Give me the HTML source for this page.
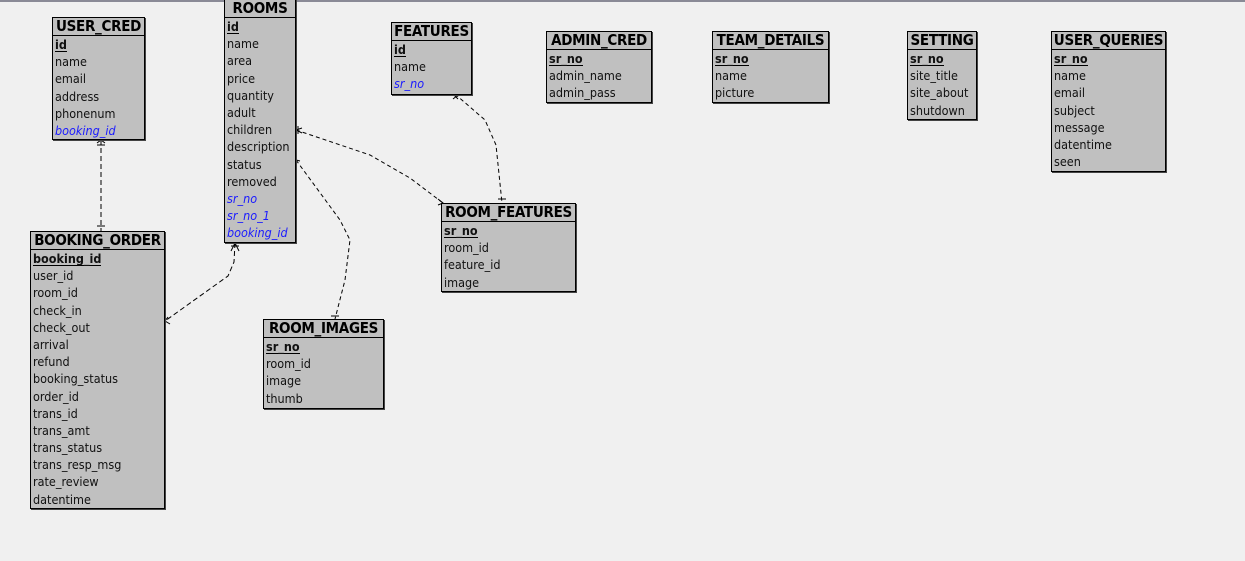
<!DOCTYPE html>
<html><head><meta charset="utf-8"><style>
body{margin:0;width:1245px;height:561px;background:#f0f0f0;position:relative;overflow:hidden;font-family:"DejaVu Sans Condensed","Liberation Sans",sans-serif}
.topline{position:absolute;left:0;top:0;width:1245px;height:2px;background:#8a8a96}
.t{position:absolute;background:#c0c0c0;border:1px solid #000;box-sizing:border-box;box-shadow:1px 1px 0 #444}
.h{height:17px;border-bottom:1px solid #000;font-weight:bold;font-size:15px;line-height:17px;text-align:center;white-space:nowrap;letter-spacing:-0.3px;overflow:hidden}
.r{height:17.2px;line-height:17.2px;font-size:12.5px;padding-left:2px;white-space:nowrap;color:#111}
.pk span{font-weight:bold;border-bottom:1px solid #000;line-height:13px;display:inline-block}
.fk{color:#1a1aff;font-style:italic}
svg{position:absolute;left:0;top:0}
</style></head><body>
<div class="topline"></div>
<svg width="1245" height="561" fill="none" stroke="#000" stroke-width="1">
<g stroke-dasharray="5,3">
<path d="M101 140 L101 231"/>
<path d="M235 243 L234 262 L228 276 L165 321"/>
</g>
<g stroke-dasharray="4,3">
<path d="M296 130 L370 155 L410 178 L443 203"/>
<path d="M296 160 L340 220 L350 240 L345 280 L335 319"/>
<path d="M455 94 L485 120 L496 145 L502 203"/>
</g>
<path d="M97 143 L101 140 L105 143 M97 145 L105 145 M97 226 L105 226"/>
<path d="M231 246 L239 246 M231 251 L235 243 L239 251"/>
<path d="M168 317 L165 321 L170 324"/>
<path d="M298 126 L298 134 M302 128 L296 130 L302 133"/>
<path d="M296 155 L296 164 M294 164 L296 160 L300 161"/>
<path d="M438 199 L443 203 L438 205"/>
<path d="M331 316 L339 316"/>
<path d="M453 99 L458 95 M458 99 L454 95"/>
<path d="M498 199 L506 199"/>
</svg>

<div class="t" style="left:52px;top:17px;width:93px;height:123px"><div class="h">USER_CRED</div>
<div class="r pk"><span>id</span></div><div class="r">name</div><div class="r">email</div><div class="r">address</div><div class="r">phonenum</div><div class="r fk">booking_id</div></div>

<div class="t" style="left:224px;top:-1px;width:72px;height:244px"><div class="h">ROOMS</div>
<div class="r pk"><span>id</span></div><div class="r">name</div><div class="r">area</div><div class="r">price</div><div class="r">quantity</div><div class="r">adult</div><div class="r">children</div><div class="r">description</div><div class="r">status</div><div class="r">removed</div><div class="r fk">sr_no</div><div class="r fk">sr_no_1</div><div class="r fk">booking_id</div></div>

<div class="t" style="left:391px;top:22px;width:81px;height:73px"><div class="h">FEATURES</div>
<div class="r pk"><span>id</span></div><div class="r">name</div><div class="r fk">sr_no</div></div>

<div class="t" style="left:546px;top:31px;width:106px;height:72px"><div class="h">ADMIN_CRED</div>
<div class="r pk"><span>sr_no</span></div><div class="r">admin_name</div><div class="r">admin_pass</div></div>

<div class="t" style="left:712px;top:31px;width:117px;height:72px"><div class="h">TEAM_DETAILS</div>
<div class="r pk"><span>sr_no</span></div><div class="r">name</div><div class="r">picture</div></div>

<div class="t" style="left:907px;top:31px;width:70px;height:89px"><div class="h">SETTING</div>
<div class="r pk"><span>sr_no</span></div><div class="r">site_title</div><div class="r">site_about</div><div class="r">shutdown</div></div>

<div class="t" style="left:1051px;top:31px;width:115px;height:141px"><div class="h">USER_QUERIES</div>
<div class="r pk"><span>sr_no</span></div><div class="r">name</div><div class="r">email</div><div class="r">subject</div><div class="r">message</div><div class="r">datentime</div><div class="r">seen</div></div>

<div class="t" style="left:30px;top:231px;width:135px;height:278px"><div class="h">BOOKING_ORDER</div>
<div class="r pk"><span>booking_id</span></div><div class="r">user_id</div><div class="r">room_id</div><div class="r">check_in</div><div class="r">check_out</div><div class="r">arrival</div><div class="r">refund</div><div class="r">booking_status</div><div class="r">order_id</div><div class="r">trans_id</div><div class="r">trans_amt</div><div class="r">trans_status</div><div class="r">trans_resp_msg</div><div class="r">rate_review</div><div class="r">datentime</div></div>

<div class="t" style="left:441px;top:203px;width:135px;height:89px"><div class="h">ROOM_FEATURES</div>
<div class="r pk"><span>sr_no</span></div><div class="r">room_id</div><div class="r">feature_id</div><div class="r">image</div></div>

<div class="t" style="left:263px;top:319px;width:121px;height:90px"><div class="h">ROOM_IMAGES</div>
<div class="r pk"><span>sr_no</span></div><div class="r">room_id</div><div class="r">image</div><div class="r">thumb</div></div>
</body></html>
